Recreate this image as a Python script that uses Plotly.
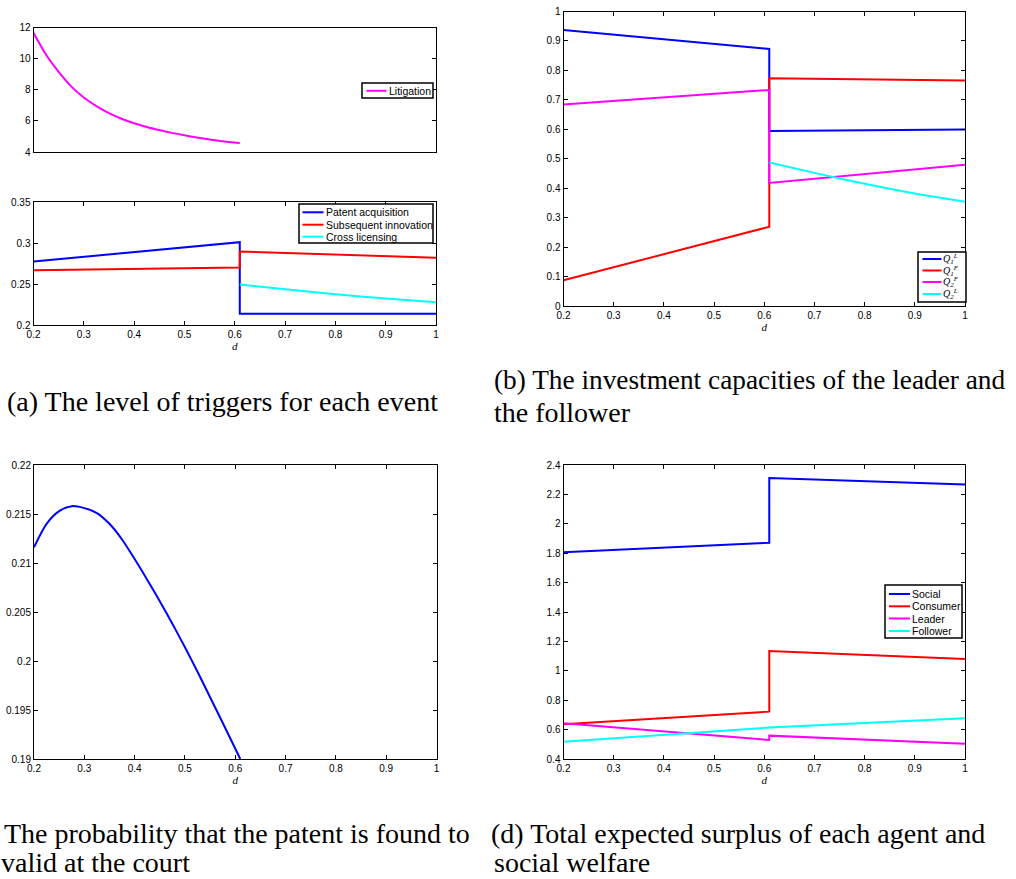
import plotly.graph_objects as go

# ---------------- data ----------------
# (a) upper: litigation trigger
lit_d = [0.2, 0.225, 0.25, 0.275, 0.3, 0.325, 0.35, 0.375, 0.4, 0.425, 0.45, 0.475, 0.5, 0.525, 0.55, 0.575, 0.61]
lit_v = [11.66, 10.25, 9.15, 8.22, 7.5, 6.95, 6.5, 6.14, 5.85, 5.61, 5.41, 5.23, 5.07, 4.93, 4.80, 4.69, 4.58]

# (a) lower: triggers
pa_d = [0.2, 0.61, 0.61, 1.0]
pa_v = [0.2774, 0.301, 0.2138, 0.2138]
si_d = [0.2, 0.61, 0.61, 1.0]
si_v = [0.2668, 0.2700, 0.2897, 0.2820]
cl_d = [0.61, 0.7, 0.8, 0.9, 1.0]
cl_v = [0.2493, 0.2435, 0.2375, 0.2322, 0.2277]

# (b) investment capacities
q1l_d = [0.2, 0.61, 0.61, 1.0]
q1l_v = [0.9376, 0.873, 0.594, 0.599]
q1f_d = [0.2, 0.61, 0.61, 1.0]
q1f_v = [0.0873, 0.269, 0.773, 0.766]
q2f_d = [0.2, 0.61, 0.61, 1.0]
q2f_v = [0.684, 0.7336, 0.418, 0.480]
q2l_d = [0.61, 0.7, 0.8, 0.9, 1.0]
q2l_v = [0.4875, 0.452, 0.415, 0.382, 0.354]

# (c) probability patent valid
pv_d = [0.2, 0.225, 0.25, 0.275, 0.3, 0.325, 0.35, 0.375, 0.4, 0.425, 0.45, 0.475, 0.5, 0.525, 0.55, 0.575, 0.61]
pv_v = [0.2116, 0.2140, 0.2153, 0.2158, 0.2156, 0.2151, 0.2140, 0.2124, 0.2104, 0.2083, 0.2061,
        0.2038, 0.2014, 0.1989, 0.1963, 0.1937, 0.1900]

# (d) surplus
soc_d = [0.2, 0.61, 0.61, 1.0]
soc_v = [1.806, 1.871, 2.311, 2.268]
con_d = [0.2, 0.61, 0.61, 1.0]
con_v = [0.636, 0.722, 1.1345, 1.080]
lea_d = [0.2, 0.61, 0.61, 1.0]
lea_v = [0.643, 0.529, 0.559, 0.504]
fol_d = [0.2, 0.61, 1.0]
fol_v = [0.518, 0.614, 0.677]

# tick labels
x_ticks = [0.2, 0.3, 0.4, 0.5, 0.6, 0.7, 0.8, 0.9, 1.0]
x_ticktext = ["0.2", "0.3", "0.4", "0.5", "0.6", "0.7", "0.8", "0.9", "1"]
a1_yticks = [4, 6, 8, 10, 12]
a1_ytext = ["4", "6", "8", "10", "12"]
a2_yticks = [0.2, 0.25, 0.3, 0.35]
a2_ytext = ["0.2", "0.25", "0.3", "0.35"]
b_yticks = [0, 0.1, 0.2, 0.3, 0.4, 0.5, 0.6, 0.7, 0.8, 0.9, 1.0]
b_ytext = ["0", "0.1", "0.2", "0.3", "0.4", "0.5", "0.6", "0.7", "0.8", "0.9", "1"]
c_yticks = [0.19, 0.195, 0.2, 0.205, 0.21, 0.215, 0.22]
c_ytext = ["0.19", "0.195", "0.2", "0.205", "0.21", "0.215", "0.22"]
d_yticks = [0.4, 0.6, 0.8, 1.0, 1.2, 1.4, 1.6, 1.8, 2.0, 2.2, 2.4]
d_ytext = ["0.4", "0.6", "0.8", "1", "1.2", "1.4", "1.6", "1.8", "2", "2.2", "2.4"]

# legend labels
leg_a1 = ["Litigation"]
leg_a2 = ["Patent acquisition", "Subsequent innovation", "Cross licensing"]
leg_b = ["Q<sub>1</sub><sup>L</sup>", "Q<sub>1</sub><sup>F</sup>",
         "Q<sub>2</sub><sup>F</sup>", "Q<sub>2</sub><sup>L</sup>"]
leg_d = ["Social", "Consumer", "Leader", "Follower"]

BLUE, RED, MAG, CYAN = "#0000FF", "#FF0000", "#FF00FF", "#00FFFF"

W, H = 1016, 879
def xd(l, r):
    return [l / W, r / W]
def yd(t, b):
    return [1 - b / H, 1 - t / H]
def px(x):
    return x / W
def py(y):
    return 1 - y / H

fig = go.Figure()
LW = 2

def add(x, y, name, color, xa, ya, shape="linear"):
    fig.add_trace(go.Scatter(x=x, y=y, name=name, mode="lines",
                             line=dict(color=color, width=LW, shape=shape, smoothing=0.8),
                             xaxis=xa, yaxis=ya, showlegend=False))

add(lit_d, lit_v, leg_a1[0], MAG, "x", "y", "spline")
add(pa_d, pa_v, leg_a2[0], BLUE, "x2", "y2")
add(si_d, si_v, leg_a2[1], RED, "x2", "y2")
add(cl_d, cl_v, leg_a2[2], CYAN, "x2", "y2", "spline")
add(q1l_d, q1l_v, "Q1L", BLUE, "x3", "y3")
add(q1f_d, q1f_v, "Q1F", RED, "x3", "y3")
add(q2f_d, q2f_v, "Q2F", MAG, "x3", "y3")
add(q2l_d, q2l_v, "Q2L", CYAN, "x3", "y3", "spline")
add(pv_d, pv_v, "Probability", BLUE, "x4", "y4", "spline")
add(soc_d, soc_v, leg_d[0], BLUE, "x5", "y5")
add(con_d, con_v, leg_d[1], RED, "x5", "y5")
add(lea_d, lea_v, leg_d[2], MAG, "x5", "y5")
add(fol_d, fol_v, leg_d[3], CYAN, "x5", "y5")

SANS = "Liberation Sans, Arial, Helvetica, sans-serif"
SERIF = "Liberation Serif, Times New Roman, serif"
tickfont = dict(family=SANS, size=10, color="black")

def xaxis(domain, anchor, labels=True, title=True):
    d = dict(domain=domain, anchor=anchor, range=[0.2, 1.0], showgrid=False, zeroline=False,
             showline=True, linecolor="black", linewidth=1, mirror="ticks",
             ticks="inside" if labels else "", ticklen=4, tickcolor="black", tickwidth=1,
             tickvals=x_ticks, ticktext=x_ticktext, showticklabels=labels, tickfont=tickfont,
             automargin=False)
    if title:
        d["title"] = dict(text="d", standoff=0,
                          font=dict(family=SERIF, size=11, color="black", style="italic"))
    return d

def yaxis(domain, anchor, rng, vals, text):
    return dict(domain=domain, anchor=anchor, range=rng, showgrid=False, zeroline=False,
                showline=True, linecolor="black", linewidth=1, mirror="ticks",
                ticks="inside", ticklen=4, tickcolor="black", tickwidth=1,
                tickvals=vals, ticktext=text, tickfont=tickfont, automargin=False)

shapes = []
annotations = []

def legend(box, rows, sample, text_x, labels, colors, font):
    x0, y0, x1, y1 = box
    shapes.append(dict(type="rect", xref="paper", yref="paper", x0=px(x0), x1=px(x1),
                       y0=py(y0), y1=py(y1), line=dict(color="black", width=1.5),
                       fillcolor="white", layer="above"))
    for yy, lab, col in zip(rows, labels, colors):
        shapes.append(dict(type="line", xref="paper", yref="paper", x0=px(sample[0]), x1=px(sample[1]),
                           y0=py(yy), y1=py(yy), line=dict(color=col, width=2), layer="above"))
        annotations.append(dict(text=lab, x=px(text_x), y=py(yy), xref="paper", yref="paper",
                                xanchor="left", yanchor="middle", showarrow=False, font=font,
                                borderpad=0))

legfont = dict(family=SANS, size=10.5, color="black")
legend((362, 83, 433, 98), [90.8], (366.5, 386.5), 387.5, leg_a1, [MAG], legfont)
legend((299, 204, 433, 243), [212.3, 224.7, 236.7], (302.5, 323.5), 325, leg_a2, [BLUE, RED, CYAN], legfont)
legend((918, 252, 966, 302), [259, 270.5, 282, 294], (922.5, 941.5), 941.5, leg_b, [BLUE, RED, MAG, CYAN],
       dict(family=SERIF, size=10, color="black", style="italic"))
legend((885, 585, 962, 638), [594, 606.3, 618.5, 631], (889, 910), 911, leg_d, [BLUE, RED, MAG, CYAN], legfont)

def cap(text, x, y, size=28):
    annotations.append(dict(text=text, x=px(x), y=py(y), xref="paper", yref="paper",
                            xanchor="left", yanchor="middle", showarrow=False,
                            font=dict(family=SERIF, size=size, color="black"), borderpad=0))

cap("(a) The level of triggers for each event", 6, 401)
cap("(b) The investment capacities of the leader and", 493, 380, 27.3)
cap("the follower", 493, 413)
cap("The probability that the patent is found to", 3, 833)
cap("valid at the court", 0, 862)
cap("(d) Total expected surplus of each agent and", 490, 833)
cap("social welfare", 493, 862)

fig.update_layout(
    width=W, height=H, margin=dict(l=0, r=0, t=0, b=0, autoexpand=False),
    paper_bgcolor="white", plot_bgcolor="white", showlegend=False,
    xaxis=xaxis(xd(33.5, 436), "y", labels=False, title=False),
    yaxis=yaxis(yd(27.5, 152), "x", [4, 12], a1_yticks, a1_ytext),
    xaxis2=xaxis(xd(33.5, 436), "y2"),
    yaxis2=yaxis(yd(202, 325), "x2", [0.2, 0.35], a2_yticks, a2_ytext),
    xaxis3=xaxis(xd(563.5, 965), "y3"),
    yaxis3=yaxis(yd(11.5, 306), "x3", [0, 1], b_yticks, b_ytext),
    xaxis4=xaxis(xd(34, 436.5), "y4"),
    yaxis4=yaxis(yd(465, 759), "x4", [0.19, 0.22], c_yticks, c_ytext),
    xaxis5=xaxis(xd(563.5, 965), "y5"),
    yaxis5=yaxis(yd(465, 759), "x5", [0.4, 2.4], d_yticks, d_ytext),
    shapes=shapes,
    annotations=annotations,
)

fig.write_html("out.html")
